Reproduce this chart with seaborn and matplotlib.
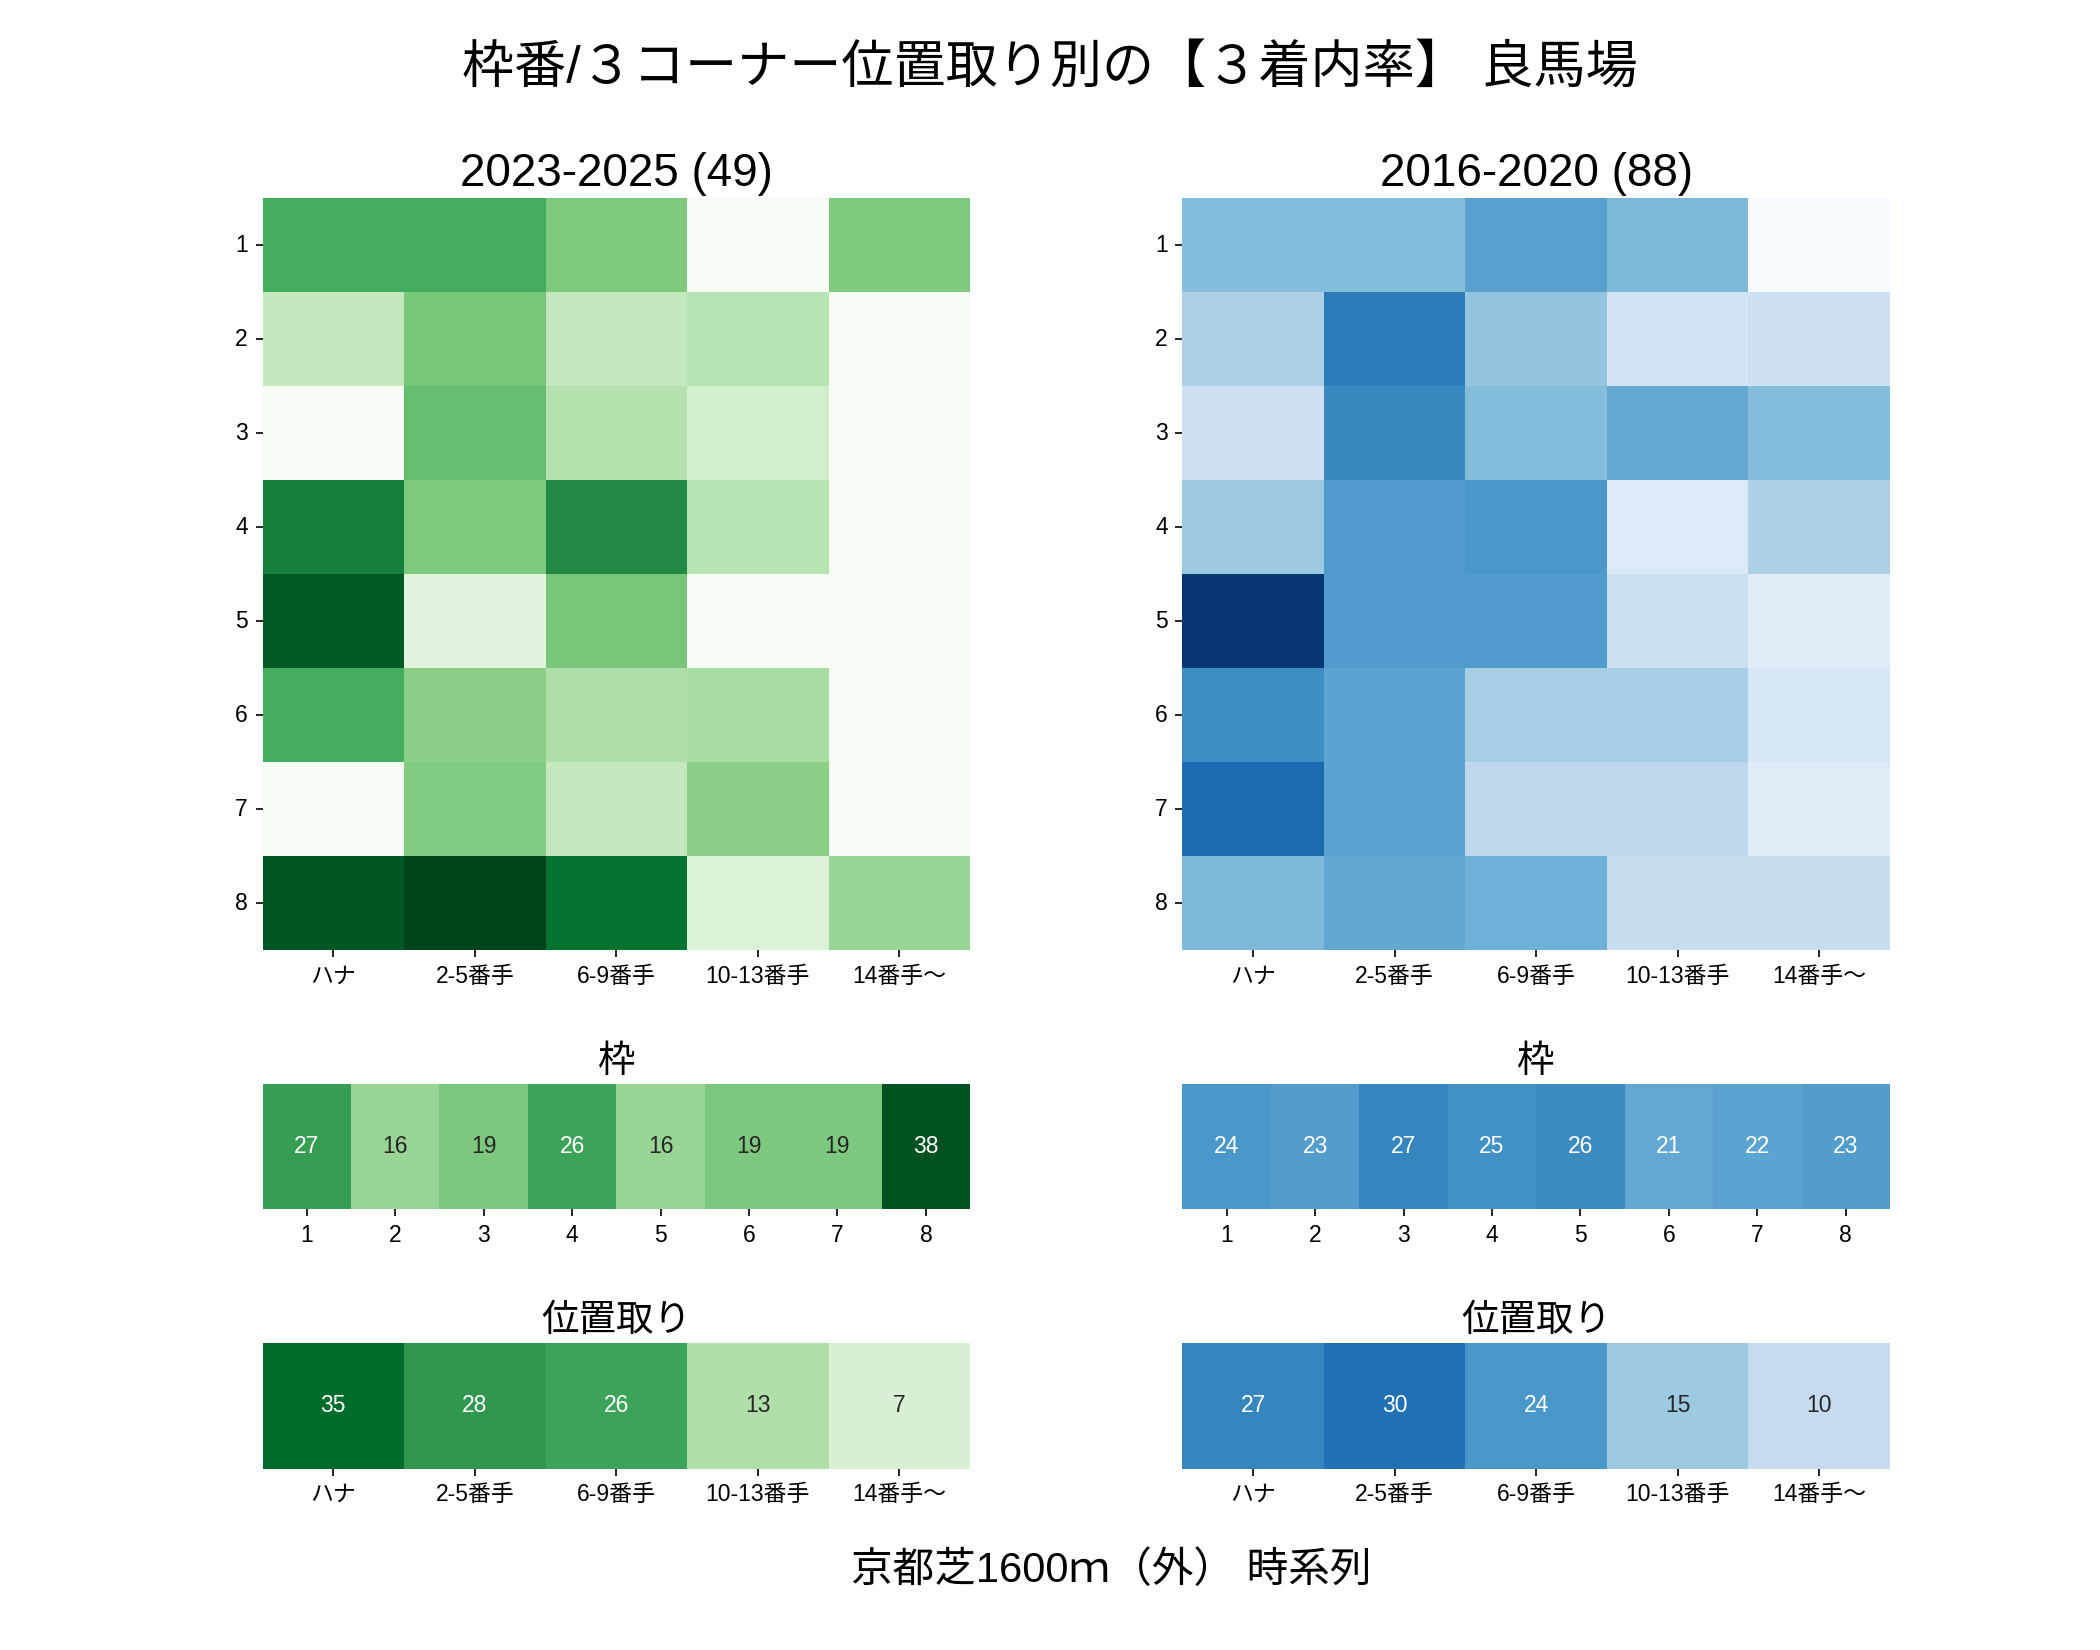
import numpy as np
import pandas as pd
import seaborn as sns
import matplotlib.pyplot as plt

plt.rcParams['font.family'] = ['Liberation Sans', 'Noto Sans CJK JP', 'DejaVu Sans']

waku = ['1', '2', '3', '4', '5', '6', '7', '8']
ichi = ['ハナ', '2-5番手', '6-9番手', '10-13番手', '14番手～']

# 3着内率 (%)  rows = 枠, cols = 3コーナー位置取り
new_rate = [
    [62, 62, 47, 0, 47],
    [26, 49, 26, 30, 0],
    [0, 53, 31, 20, 0],
    [80, 47, 75, 30, 0],
    [93, 14, 49, 0, 0],
    [62, 44, 33, 35, 0],
    [0, 46, 26, 44, 0],
    [94, 100, 85, 17, 40],
]
old_rate = [
    [43, 44, 56, 45, 0],
    [33, 71, 40, 19, 21],
    [21, 66, 44, 52, 43],
    [38, 58, 60, 14, 33],
    [97, 58, 58, 22, 12],
    [64, 55, 35, 35, 16],
    [77, 55, 28, 28, 12],
    [45, 53, 49, 24, 24],
]
new_waku = [27, 16, 19, 26, 16, 19, 19, 38]
old_waku = [24, 23, 27, 25, 26, 21, 22, 23]
new_ichi = [35, 28, 26, 13, 7]
old_ichi = [27, 30, 24, 15, 10]

fig, axes = plt.subplots(3, 2, figsize=(14, 11), dpi=150,
                         gridspec_kw={'height_ratios': [6, 1, 1]})
plt.subplots_adjust(hspace=0.4, wspace=0.3)

panels = [('2023-2025 (49)', 'Greens', new_rate, new_waku, new_ichi),
          ('2016-2020 (88)', 'Blues', old_rate, old_waku, old_ichi)]

for col, (title, cmap, rate, wk, ic) in enumerate(panels):
    df = pd.DataFrame(rate, index=waku, columns=ichi)
    ax = axes[0, col]
    sns.heatmap(df, cmap=cmap, vmin=0, vmax=100, cbar=False, ax=ax)
    ax.set_title(title, fontsize=22)
    ax.tick_params(axis='y', rotation=0, labelsize=11)
    ax.tick_params(axis='x', rotation=0, labelsize=11)

    ax = axes[1, col]
    sns.heatmap(pd.DataFrame([wk], columns=waku), cmap=cmap, vmin=0, vmax=40,
                annot=True, fmt='d', cbar=False, yticklabels=False, ax=ax,
                annot_kws={'fontsize': 11})
    ax.set_title('枠', fontsize=18)
    ax.tick_params(axis='x', rotation=0, labelsize=11)

    ax = axes[2, col]
    sns.heatmap(pd.DataFrame([ic], columns=ichi), cmap=cmap, vmin=0, vmax=40,
                annot=True, fmt='d', cbar=False, yticklabels=False, ax=ax,
                annot_kws={'fontsize': 11})
    ax.set_title('位置取り', fontsize=18)
    ax.tick_params(axis='x', rotation=0, labelsize=11)

fig.suptitle('枠番/３コーナー位置取り別の【３着内率】 良馬場', fontsize=25, y=0.958, va='center')
fig.text(0.529, 0.048, '京都芝1600ｍ（外） 時系列', fontsize=20, ha='center', va='center')

fig.savefig('out.png', dpi=150)
